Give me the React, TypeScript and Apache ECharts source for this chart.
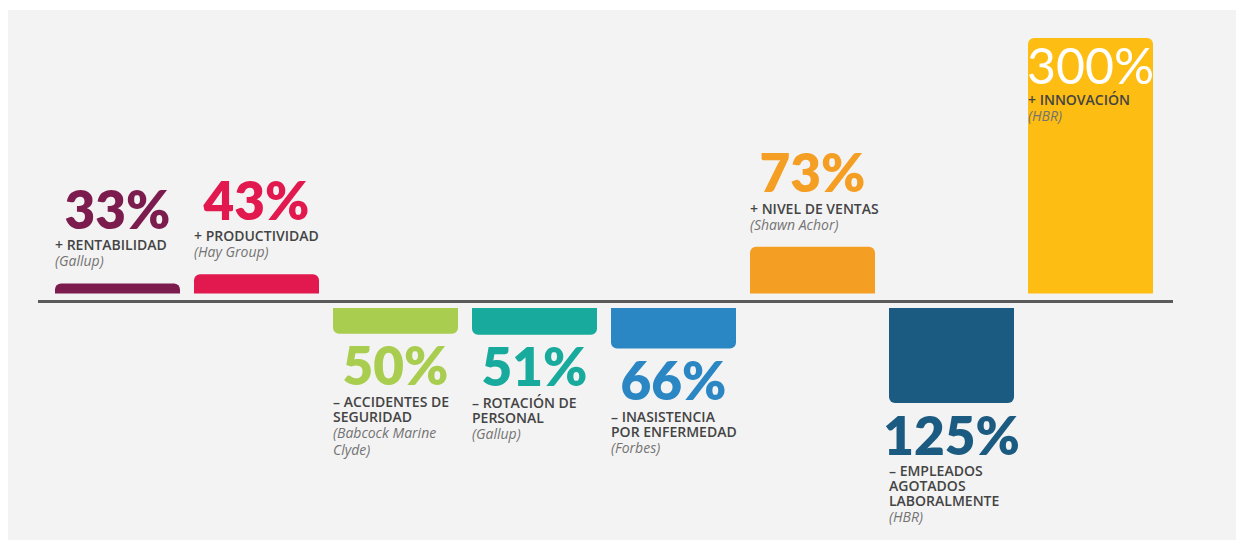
import React, { useEffect, useRef } from "react";
import * as echarts from "echarts";

// ---- data ----
const categories = [
  "Rentabilidad",
  "Productividad",
  "Accidentes de seguridad",
  "Rotación de personal",
  "Inasistencia por enfermedad",
  "Nivel de ventas",
  "Empleados agotados laboralmente",
  "Innovación",
];
// positive = increase (+), negative = decrease (–)
const values = [33, 43, -50, -51, -66, 73, -125, 300];
const descriptions = [
  "+ RENTABILIDAD",
  "+ PRODUCTIVIDAD",
  "– ACCIDENTES DE\nSEGURIDAD",
  "– ROTACIÓN DE\nPERSONAL",
  "– INASISTENCIA\nPOR ENFERMEDAD",
  "+ NIVEL DE VENTAS",
  "– EMPLEADOS\nAGOTADOS\nLABORALMENTE",
  "+ INNOVACIÓN",
];
const sources = [
  "(Gallup)",
  "(Hay Group)",
  "(Babcock Marine\nClyde)",
  "(Gallup)",
  "(Forbes)",
  "(Shawn Achor)",
  "(HBR)",
  "(HBR)",
];
const colors = [
  "#7c1b4e",
  "#e1194f",
  "#a8cd4f",
  "#17aa9d",
  "#2b87c3",
  "#f59e24",
  "#1c5b81",
  "#fdbd12",
];
// the infographic uses a truncated baseline for both directions
const AXIS_BASE = 22;
const posMax = 300;
const negMax = 125;

const BAR_W = 125;

function buildLabel(i: number, v: number) {
  const pct = `${Math.abs(v)}%`;
  const inside = v === posMax;
  const rich = {
    p: {
      fontFamily: "Lato",
      fontWeight: inside ? 400 : 800,
      fontSize: inside ? 50 : 53,
      lineHeight: inside ? 54 : 58,
      color: inside ? "#ffffff" : colors[i],
      width: BAR_W,
      align: "center",
    },
    d: {
      fontFamily: "Open Sans",
      fontWeight: 600,
      fontSize: 14,
      lineHeight: 15,
      color: "#444444",
    },
    s: {
      fontFamily: "Open Sans",
      fontStyle: "italic",
      fontSize: 14,
      lineHeight: 17,
      color: "#737373",
    },
  };
  const formatter = `{p|${pct}}\n{d|${descriptions[i]}}\n{s|${sources[i]}}`;
  if (inside) {
    return {
      show: true,
      position: [0, 0],
      offset: [0, 0],
      align: "left",
      verticalAlign: "top",
      width: BAR_W,
      formatter,
      rich,
    };
  }
  if (v > 0) {
    return {
      show: true,
      position: [0, 0],
      offset: [0, -14],
      align: "left",
      verticalAlign: "bottom",
      width: BAR_W,
      formatter,
      rich,
    };
  }
  return {
    show: true,
    position: ["0%", "100%"],
    offset: [0, 2],
    align: "left",
    verticalAlign: "top",
    width: BAR_W,
    formatter,
    rich,
  };
}

export default function App() {
  const ref = useRef<HTMLDivElement>(null);
  useEffect(() => {
    if (!ref.current) return;
    const chart = echarts.init(ref.current, null, { renderer: "svg" });

    const posData = values.map((v, i) =>
      v > 0
        ? {
            value: v,
            itemStyle: { color: colors[i], borderRadius: [6, 6, 0, 0] },
            label: buildLabel(i, v),
          }
        : null
    );
    const negData = values.map((v, i) =>
      v < 0
        ? {
            value: -v,
            itemStyle: { color: colors[i], borderRadius: [0, 0, 6, 6] },
            label: buildLabel(i, v),
          }
        : null
    );

    chart.setOption({
      animation: false,
      backgroundColor: "#ffffff",
      graphic: [
        {
          type: "rect",
          z: -10,
          shape: { x: 8, y: 10, width: 1228, height: 530 },
          style: { fill: "#f3f3f3" },
        },
        {
          type: "line",
          z: 10,
          shape: { x1: 38, y1: 301.5, x2: 1173, y2: 301.5 },
          style: { stroke: "#5a5a5a", lineWidth: 3 },
        },
      ],
      grid: [
        { left: 48, width: 1112, top: 38, height: 255.5 },
        { left: 48, width: 1112, top: 308, height: 95 },
      ],
      xAxis: [
        { type: "category", gridIndex: 0, data: categories, show: false },
        { type: "category", gridIndex: 1, data: categories, show: false },
      ],
      yAxis: [
        { type: "value", gridIndex: 0, min: AXIS_BASE, max: posMax, show: false },
        {
          type: "value",
          gridIndex: 1,
          min: AXIS_BASE,
          max: negMax,
          inverse: true,
          show: false,
        },
      ],
      series: [
        {
          type: "bar",
          name: "Aumento",
          xAxisIndex: 0,
          yAxisIndex: 0,
          barWidth: BAR_W,
          clip: true,
          data: posData,
        },
        {
          type: "bar",
          name: "Disminución",
          xAxisIndex: 1,
          yAxisIndex: 1,
          barWidth: BAR_W,
          clip: true,
          data: negData,
        },
      ],
    });
    return () => chart.dispose();
  }, []);
  return (
    <div
      ref={ref}
      style={{ position: "absolute", left: 0, top: 0, width: 1242, height: 544 }}
    />
  );
}
